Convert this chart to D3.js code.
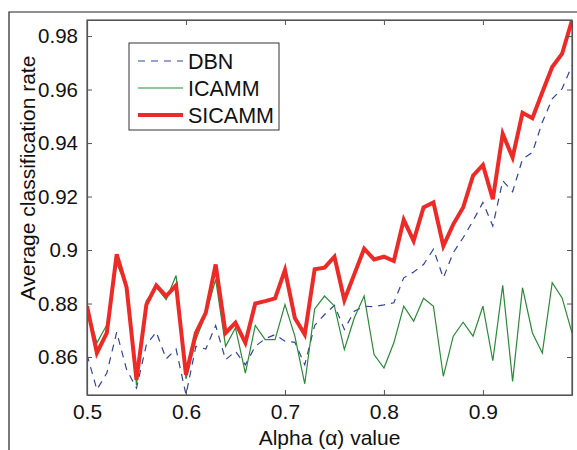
<!DOCTYPE html>
<html>
<head>
<meta charset="utf-8">
<script src="https://cdn.jsdelivr.net/npm/d3@7"></script>
<style>
  body { margin: 0; background: #fff; }
  svg text { font-family: "Liberation Sans", Arial, sans-serif; fill: #111; }
</style>
</head>
<body>
<svg id="chart" width="577" height="450"></svg>
<script>
// alpha values 0.50 .. 0.99
const alpha = [0.50,0.51,0.52,0.53,0.54,0.55,0.56,0.57,0.58,0.59,
  0.60,0.61,0.62,0.63,0.64,0.65,0.66,0.67,0.68,0.69,
  0.70,0.71,0.72,0.73,0.74,0.75,0.76,0.77,0.78,0.79,
  0.80,0.81,0.82,0.83,0.84,0.85,0.86,0.87,0.88,0.89,
  0.90,0.91,0.92,0.93,0.94,0.95,0.96,0.97,0.98,0.99];

const dbn = [0.8609,0.8478,0.854,0.8693,0.8553,0.8484,0.8646,0.8693,0.8593,0.863,
  0.8459,0.864,0.863,0.8718,0.859,0.8621,0.8571,0.864,0.8668,0.8684,
  0.8659,0.8655,0.8571,0.8718,0.8759,0.8793,0.8703,0.8771,0.879,0.8788,
  0.8795,0.8803,0.8896,0.8918,0.8946,0.9003,0.8896,0.899,0.9046,0.9109,
  0.9178,0.909,0.9259,0.9218,0.934,0.9365,0.9478,0.9565,0.9603,0.969];

const icamm = [0.879,0.8653,0.872,0.895,0.8865,0.8496,0.881,0.886,0.8815,0.8905,
  0.8518,0.8665,0.876,0.889,0.864,0.8709,0.854,0.8718,0.8665,0.8665,
  0.8796,0.8678,0.85,0.878,0.8828,0.879,0.8628,0.8746,0.8828,0.8609,
  0.8559,0.8653,0.879,0.8734,0.882,0.879,0.8528,0.8678,0.873,0.8678,
  0.879,0.8586,0.8868,0.8509,0.8859,0.869,0.8615,0.8878,0.8821,0.869];

const sicamm = [0.879,0.8615,0.869,0.8984,0.886,0.8515,0.8796,0.8868,0.8828,0.8868,
  0.8534,0.869,0.8765,0.8946,0.869,0.8728,0.8653,0.88,0.8809,0.8819,
  0.8925,0.8746,0.8684,0.8928,0.8934,0.8975,0.8813,0.8909,0.9005,0.8965,
  0.8975,0.8959,0.9113,0.9034,0.9159,0.9178,0.9015,0.9096,0.9159,0.9278,
  0.9318,0.919,0.9434,0.9346,0.9513,0.9493,0.959,0.9684,0.9734,0.9859];

const xTicks = [0.5, 0.6, 0.7, 0.8, 0.9];
const xTickLabels = ["0.5", "0.6", "0.7", "0.8", "0.9"];
const yTicks = [0.86, 0.88, 0.9, 0.92, 0.94, 0.96, 0.98];
const yTickLabels = ["0.86", "0.88", "0.9", "0.92", "0.94", "0.96", "0.98"];

const seriesNames = ["DBN", "ICAMM", "SICAMM"];

const svg = d3.select("#chart");
const mLeft = 87, mRight = 572, mTop = 20, mBottom = 395;

const x = d3.scaleLinear().domain([0.5, 0.99]).range([mLeft, mRight]);
const y = d3.scaleLinear().domain([0.8458, 0.986]).range([mBottom, mTop]);

// outer frame (figure border)
svg.append("path")
  .attr("d", "M9,450V12H577")
  .attr("fill", "none")
  .attr("stroke", "#222")
  .attr("stroke-width", 1.2);

svg.append("clipPath").attr("id", "plotclip")
  .append("rect")
  .attr("x", mLeft).attr("y", mTop)
  .attr("width", mRight - mLeft).attr("height", mBottom - mTop);

const styles = [
  { data: dbn, color: "#33429f", width: 1.2, dash: "7,6" },
  { data: icamm, color: "#2a8a35", width: 1.2, dash: null },
  { data: sicamm, color: "#ee2a26", width: 4, dash: null }
];

const line = d3.line()
  .x((d, i) => x(alpha[i]))
  .y(d => y(d));

const plot = svg.append("g").attr("clip-path", "url(#plotclip)");
styles.forEach(s => {
  plot.append("path")
    .datum(s.data)
    .attr("fill", "none")
    .attr("stroke", s.color)
    .attr("stroke-width", s.width)
    .attr("stroke-dasharray", s.dash)
    .attr("stroke-linejoin", "miter")
    .attr("d", line);
});

// axes, matlab-style box with inward ticks
const tickLen = 5;
svg.append("g")
  .attr("transform", `translate(0,${mBottom})`)
  .call(d3.axisBottom(x).tickValues(xTicks).tickSizeInner(-tickLen).tickSizeOuter(0)
    .tickPadding(9).tickFormat((d, i) => xTickLabels[i]))
  .call(g => g.selectAll("text").style("font-size", "21px").attr("dy", "0.71em"));

svg.append("g")
  .attr("transform", `translate(0,${mTop})`)
  .call(d3.axisTop(x).tickValues(xTicks).tickSizeInner(-tickLen).tickSizeOuter(0)
    .tickFormat(""));

svg.append("g")
  .attr("transform", `translate(${mLeft},0)`)
  .call(d3.axisLeft(y).tickValues(yTicks).tickSizeInner(-tickLen).tickSizeOuter(0)
    .tickPadding(9).tickFormat((d, i) => yTickLabels[i]))
  .call(g => g.selectAll("text").style("font-size", "20.5px"));

svg.append("g")
  .attr("transform", `translate(${mRight},0)`)
  .call(d3.axisRight(y).tickValues(yTicks).tickSizeInner(-tickLen).tickSizeOuter(0)
    .tickFormat(""));

svg.selectAll(".domain").attr("stroke", "#555").attr("stroke-width", 1.2);
svg.selectAll(".tick line").attr("stroke", "#555");

svg.append("rect")
  .attr("x", mLeft).attr("y", mTop)
  .attr("width", mRight - mLeft).attr("height", mBottom - mTop)
  .attr("fill", "none").attr("stroke", "#555").attr("stroke-width", 1.2);

// axis titles
svg.append("text")
  .attr("x", (mLeft + mRight) / 2).attr("y", 445)
  .attr("text-anchor", "middle")
  .style("font-size", "21px")
  .text("Alpha (\u03B1) value");

svg.append("text")
  .attr("transform", "translate(35,178) rotate(-90)")
  .attr("text-anchor", "middle")
  .style("font-size", "21px")
  .text("Average classification rate");

// legend
const legend = svg.append("g");
legend.append("rect")
  .attr("x", 129).attr("y", 43).attr("width", 150).attr("height", 87)
  .attr("fill", "#fff").attr("stroke", "#333").attr("stroke-width", 1);

styles.forEach((s, i) => {
  const ly = 61 + i * 27;
  legend.append("line")
    .attr("x1", 138).attr("x2", 183).attr("y1", ly).attr("y2", ly)
    .attr("stroke", s.color)
    .attr("stroke-width", s.width)
    .attr("stroke-dasharray", s.dash);
  legend.append("text")
    .attr("x", 188).attr("y", ly)
    .attr("dy", "0.35em")
    .style("font-size", "21.5px")
    .text(seriesNames[i]);
});
</script>
</body>
</html>
